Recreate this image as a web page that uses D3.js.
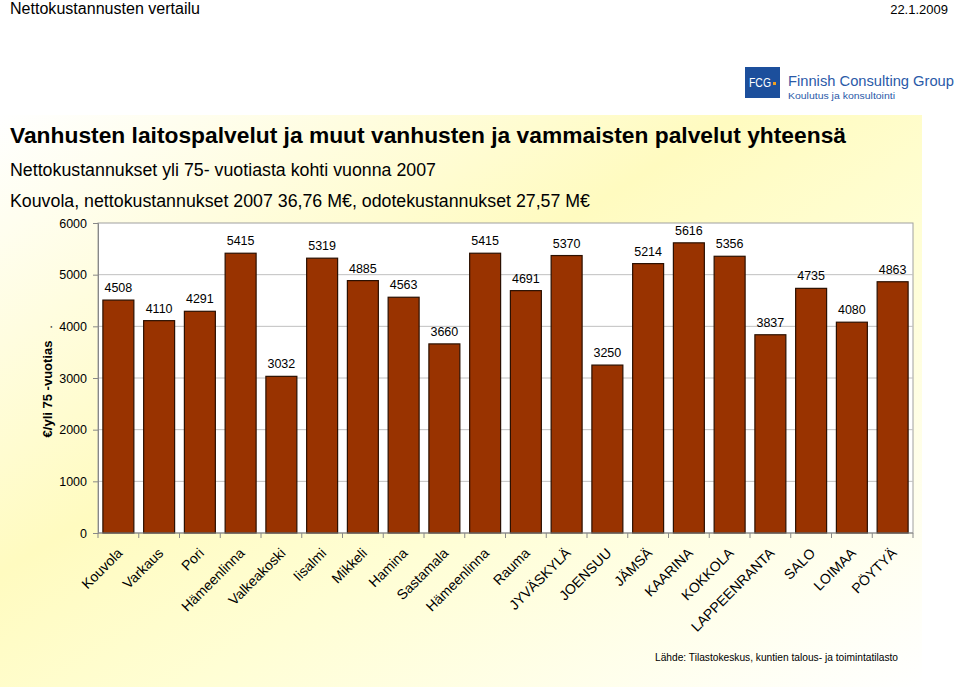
<!DOCTYPE html>
<html><head><meta charset="utf-8">
<script src="https://cdn.jsdelivr.net/npm/d3@7"></script>
<style>
body{margin:0;padding:0;background:#fff;}
svg{display:block;font-family:Arial,"Liberation Sans",sans-serif;}
</style></head>
<body>
<svg id="c" width="959" height="689"></svg>
<script>
const categories = ["Kouvola","Varkaus","Pori","Hämeenlinna","Valkeakoski","Iisalmi","Mikkeli","Hamina","Sastamala","Hämeenlinna","Rauma","JYVÄSKYLÄ","JOENSUU","JÄMSÄ","KAARINA","KOKKOLA","LAPPEENRANTA","SALO","LOIMAA","PÖYTYÄ"];
const values = [4508,4110,4291,5415,3032,5319,4885,4563,3660,5415,4691,5370,3250,5214,5616,5356,3837,4735,4080,4863];
const yTicks = [0,1000,2000,3000,4000,5000,6000];

const svg = d3.select("#c");
const defs = svg.append("defs");
const g1 = defs.append("linearGradient").attr("id","bg").attr("x1","0").attr("y1","0").attr("x2","1").attr("y2","1");
g1.append("stop").attr("offset","0").attr("stop-color","#ffffff");
g1.append("stop").attr("offset","0.4").attr("stop-color","#fffbc0");
g1.append("stop").attr("offset","0.6").attr("stop-color","#fffed4");
g1.append("stop").attr("offset","1").attr("stop-color","#ffffff");

svg.append("rect").attr("x",0).attr("y",115).attr("width",922).attr("height",572).attr("fill","url(#bg)");

// header
const narrow = "'Liberation Sans Narrow','Arial Narrow',Arial,sans-serif";
svg.append("text").attr("x",10).attr("y",14).attr("font-size",16).attr("font-family",narrow).attr("fill","#000")
  .attr("textLength",190).attr("lengthAdjust","spacingAndGlyphs").text("Nettokustannusten vertailu");
svg.append("text").attr("x",948).attr("y",14).attr("text-anchor","end").attr("font-size",13).attr("font-family",narrow).attr("fill","#000").text("22.1.2009");

// logo
svg.append("rect").attr("x",745).attr("y",67).attr("width",35).attr("height",31).attr("fill","#1c4f9c");
svg.append("text").attr("x",749).attr("y",87).attr("font-size",12).attr("fill","#fff").attr("textLength",22).attr("lengthAdjust","spacingAndGlyphs").text("FCG");
svg.append("rect").attr("x",773).attr("y",82).attr("width",3).attr("height",3).attr("fill","#f0a020");
svg.append("text").attr("x",788).attr("y",86).attr("font-size",14).attr("fill","#2a5aa8")
  .attr("textLength",166).attr("lengthAdjust","spacingAndGlyphs").text("Finnish Consulting Group");
svg.append("text").attr("x",788).attr("y",99).attr("font-size",9).attr("fill","#2a5aa8")
  .attr("textLength",107).attr("lengthAdjust","spacingAndGlyphs").text("Koulutus ja konsultointi");

// titles
svg.append("text").attr("x",10).attr("y",143).attr("font-size",22.5).attr("font-weight","bold").attr("fill","#000")
  .attr("textLength",836).attr("lengthAdjust","spacingAndGlyphs").text("Vanhusten laitospalvelut ja muut vanhusten ja vammaisten palvelut yhteensä");
svg.append("text").attr("x",10).attr("y",176).attr("font-size",17.5).attr("fill","#000")
  .attr("textLength",426).attr("lengthAdjust","spacingAndGlyphs").text("Nettokustannukset yli 75- vuotiasta kohti vuonna 2007");
svg.append("text").attr("x",10).attr("y",207).attr("font-size",17.5).attr("fill","#000")
  .attr("textLength",580).attr("lengthAdjust","spacingAndGlyphs").text("Kouvola, nettokustannukset 2007 36,76 M€, odotekustannukset 27,57 M€");

// plot
const L=98, R=913, T=223, B=533;
const x = d3.scaleBand().domain(d3.range(categories.length)).range([L,R]).paddingInner(0.24).paddingOuter(0.12);
const y = d3.scaleLinear().domain([0,6000]).range([B,T]);

svg.append("rect").attr("x",L).attr("y",T).attr("width",R-L).attr("height",B-T).attr("fill","#fff").attr("stroke","#a0a0a0").attr("stroke-width",1);

svg.append("g").selectAll("line").data(yTicks.filter(d=>d>0 && d<6000)).join("line")
  .attr("x1",L).attr("x2",R).attr("y1",d=>y(d)).attr("y2",d=>y(d)).attr("stroke","#c0c0c0").attr("stroke-width",1);

// y axis
const ya = svg.append("g").attr("transform",`translate(${L},0)`).call(d3.axisLeft(y).tickValues(yTicks).tickSize(5).tickPadding(6).tickFormat(d3.format("d")));
ya.select(".domain").attr("stroke","#888");
ya.selectAll(".tick line").attr("stroke","#888");
ya.selectAll("text").attr("font-size",12.5).attr("font-family","Arial,'Liberation Sans',sans-serif").attr("fill","#000");

// bars
svg.append("g").selectAll("rect").data(values).join("rect")
  .attr("x",(d,i)=>x(i)).attr("width",x.bandwidth())
  .attr("y",d=>y(d)).attr("height",d=>B-y(d))
  .attr("fill","#993300").attr("stroke","#2b1000").attr("stroke-width",1.2);

svg.append("g").selectAll("text").data(values).join("text")
  .attr("x",(d,i)=>x(i)+x.bandwidth()/2).attr("y",d=>y(d)-8)
  .attr("text-anchor","middle").attr("font-size",12.5).attr("fill","#000").text(d=>d);

// x axis
svg.append("line").attr("x1",L).attr("x2",R).attr("y1",B).attr("y2",B).attr("stroke","#888");
svg.append("g").selectAll("line").data(d3.range(categories.length+1)).join("line")
  .attr("x1",i=>L+i*(R-L)/categories.length).attr("x2",i=>L+i*(R-L)/categories.length)
  .attr("y1",B).attr("y2",B+5).attr("stroke","#888");

svg.append("g").selectAll("text").data(categories).join("text")
  .attr("transform",(d,i)=>`translate(${x(i)+x.bandwidth()/2+5},${B+21}) rotate(-45)`)
  .attr("text-anchor","end").attr("font-size",14).attr("fill","#000").text(d=>d);

// y label
svg.append("text").attr("transform",`translate(52,389) rotate(-90)`).attr("text-anchor","middle")
  .attr("font-size",13).attr("font-weight","bold").attr("fill","#000").text("€/yli 75 -vuotias");
svg.append("text").attr("transform",`translate(52,327) rotate(-90)`).attr("text-anchor","middle")
  .attr("font-size",13).attr("fill","#000").text(".");

// source
svg.append("text").attr("x",655).attr("y",661).attr("font-size",11).attr("fill","#000")
  .attr("textLength",243).attr("lengthAdjust","spacingAndGlyphs").text("Lähde: Tilastokeskus, kuntien talous- ja toimintatilasto");
</script>
</body></html>
